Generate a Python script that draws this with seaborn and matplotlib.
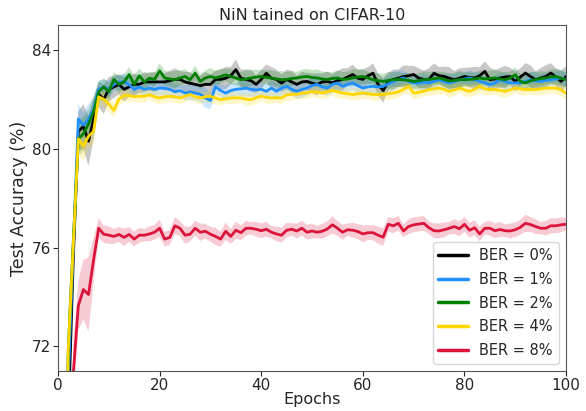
import matplotlib
matplotlib.use("Agg")
import matplotlib.pyplot as plt
import pandas as pd
import seaborn as sns

epochs = list(range(1, 101))
labels = ["BER = 0%", "BER = 1%", "BER = 2%", "BER = 4%", "BER = 8%"]
colors = ["#000000", "#1E90FF", "#008000", "#FFD700", "#DC143C"]

acc_ber0 = [50.0, 69.0, 75.5, 80.7, 80.9, 80.3, 81.2, 82.2, 82.0, 82.4,
            82.5, 82.6, 82.4, 82.5, 82.6, 82.6, 82.7, 82.7, 82.7, 82.7,
            82.7, 82.75, 82.8, 82.8, 82.7, 82.65, 82.6, 82.55, 82.6, 82.6,
            82.8, 82.8, 82.85, 82.95, 83.2, 82.85, 82.8, 82.75, 82.6, 82.8,
            83.05, 82.85, 82.8, 82.65, 82.8, 82.7, 82.6, 82.7, 82.72, 82.65,
            82.6, 82.7, 82.72, 82.66, 82.75, 82.8, 82.9, 83.0, 82.85, 82.8,
            82.95, 83.05, 82.6, 82.35, 82.72, 82.8, 82.85, 82.92, 82.95, 83.0,
            82.85, 82.8, 82.8, 83.05, 82.95, 82.92, 82.85, 82.79, 82.85, 82.92,
            82.88, 82.86, 82.95, 83.13, 82.79, 82.82, 82.86, 82.9, 82.92, 82.72,
            82.9, 83.06, 82.92, 82.79, 82.86, 82.92, 83.06, 82.9, 82.72, 82.92]
acc_ber1 = [52.0, 70.5, 76.0, 81.2, 80.95, 81.2, 81.6, 82.4, 82.5, 82.4,
            82.6, 82.7, 82.7, 82.6, 82.4, 82.5, 82.4, 82.45, 82.4, 82.45,
            82.45, 82.4, 82.3, 82.35, 82.25, 82.3, 82.25, 82.2, 82.05, 81.95,
            82.5, 82.35, 82.25, 82.35, 82.4, 82.42, 82.45, 82.4, 82.38, 82.4,
            82.32, 82.45, 82.32, 82.45, 82.52, 82.4, 82.32, 82.4, 82.45, 82.55,
            82.6, 82.5, 82.45, 82.6, 82.66, 82.52, 82.6, 82.66, 82.55, 82.45,
            82.5, 82.52, 82.5, 82.52, 82.62, 82.72, 82.8, 82.86, 82.72, 82.66,
            82.66, 82.7, 82.66, 82.72, 82.79, 82.72, 82.66, 82.72, 82.79, 82.82,
            82.86, 82.8, 82.72, 82.66, 82.59, 82.66, 82.79, 82.72, 82.66, 82.66,
            82.66, 82.72, 82.79, 82.75, 82.72, 82.76, 82.79, 82.82, 82.86, 82.8]
acc_ber2 = [55.0, 71.8, 76.2, 80.4, 80.6, 81.0, 81.5, 82.3, 82.5, 82.3,
            82.8, 82.6, 82.7, 83.0, 82.6, 82.95, 82.7, 82.85, 82.8, 83.15,
            82.86, 82.82, 82.79, 82.86, 82.92, 82.79, 83.06, 82.72, 82.86, 82.92,
            82.86, 82.92, 82.99, 82.92, 82.86, 82.79, 82.82, 82.86, 82.9, 82.92,
            82.88, 82.86, 82.82, 82.79, 82.8, 82.84, 82.86, 82.9, 82.92, 82.88,
            82.86, 82.82, 82.8, 82.84, 82.86, 82.8, 82.82, 82.86, 82.9, 82.92,
            82.86, 82.79, 82.75, 82.72, 82.76, 82.79, 82.8, 82.79, 82.76, 82.72,
            82.75, 82.79, 82.8, 82.83, 82.86, 82.8, 82.74, 82.76, 82.79, 82.79,
            82.8, 82.82, 82.86, 82.82, 82.84, 82.86, 82.82, 82.79, 82.86, 82.99,
            82.72, 82.66, 82.75, 82.79, 82.84, 82.86, 82.9, 82.92, 82.85, 82.79]
acc_ber4 = [55.0, 71.8, 76.1, 80.4, 80.1, 80.5, 80.7, 82.1, 82.0, 81.8,
            81.55, 82.0, 82.15, 82.15, 82.1, 82.12, 82.12, 82.18, 82.1, 82.05,
            82.1, 82.12, 82.1, 82.05, 82.12, 82.19, 82.1, 82.05, 82.1, 82.12,
            82.05, 81.98, 82.02, 82.05, 82.06, 82.05, 82.0, 81.98, 82.06, 82.12,
            82.08, 82.05, 82.06, 82.05, 82.18, 82.19, 82.2, 82.24, 82.26, 82.3,
            82.3, 82.25, 82.3, 82.36, 82.3, 82.25, 82.22, 82.19, 82.22, 82.25,
            82.22, 82.19, 82.19, 82.2, 82.22, 82.25, 82.3, 82.4, 82.52, 82.25,
            82.28, 82.32, 82.39, 82.42, 82.45, 82.4, 82.32, 82.38, 82.45, 82.38,
            82.32, 82.4, 82.52, 82.42, 82.39, 82.39, 82.36, 82.32, 82.38, 82.45,
            82.42, 82.39, 82.39, 82.39, 82.42, 82.45, 82.45, 82.45, 82.38, 82.25]
acc_ber8 = [40.0, 58.0, 70.9, 73.65, 74.3, 74.1, 75.5, 76.78, 76.54, 76.5,
            76.45, 76.53, 76.41, 76.53, 76.34, 76.5, 76.5, 76.55, 76.62, 76.78,
            76.34, 76.41, 76.88, 76.78, 76.5, 76.54, 76.78, 76.62, 76.66, 76.54,
            76.45, 76.34, 76.66, 76.45, 76.7, 76.6, 76.78, 76.78, 76.74, 76.68,
            76.74, 76.62, 76.55, 76.5, 76.7, 76.74, 76.67, 76.78, 76.62, 76.67,
            76.62, 76.66, 76.75, 76.92, 76.78, 76.62, 76.72, 76.7, 76.65, 76.55,
            76.6, 76.6, 76.5, 76.42, 76.94, 76.88, 76.98, 76.67, 76.85, 76.92,
            76.95, 76.98, 76.8, 76.68, 76.67, 76.72, 76.78, 76.85, 76.76, 76.94,
            76.7, 76.8, 76.55, 76.78, 76.78, 76.68, 76.73, 76.68, 76.67, 76.72,
            76.82, 76.98, 76.93, 76.85, 76.78, 76.78, 76.88, 76.88, 76.92, 76.94]

sd_ber0 = [2.0, 1.5, 1.0, 0.8, 0.9, 1.0, 0.8, 0.5, 0.6, 0.5,
           0.45, 0.4, 0.5, 0.4, 0.45, 0.35, 0.4, 0.35, 0.4, 0.3,
           0.35, 0.4, 0.45, 0.35, 0.4, 0.45, 0.35, 0.4, 0.5, 0.4,
           0.35, 0.4, 0.45, 0.35, 0.4, 0.35, 0.4, 0.45, 0.35, 0.4,
           0.35, 0.45, 0.4, 0.35, 0.4, 0.45, 0.35, 0.4, 0.35, 0.4,
           0.45, 0.35, 0.4, 0.35, 0.4, 0.45, 0.35, 0.4, 0.35, 0.4,
           0.35, 0.4, 0.45, 0.5, 0.35, 0.4, 0.35, 0.45, 0.4, 0.35,
           0.4, 0.35, 0.45, 0.4, 0.35, 0.4, 0.45, 0.35, 0.4, 0.35,
           0.4, 0.45, 0.35, 0.4, 0.5, 0.35, 0.4, 0.45, 0.35, 0.4,
           0.35, 0.4, 0.45, 0.35, 0.4, 0.45, 0.4, 0.35, 0.45, 0.4]
sd_ber1 = [2.0, 1.5, 1.0, 0.6, 0.5, 0.6, 0.5, 0.35, 0.3, 0.35,
           0.3, 0.3, 0.35, 0.3, 0.3, 0.25, 0.3, 0.3, 0.25, 0.3,
           0.3, 0.35, 0.3, 0.25, 0.3, 0.35, 0.3, 0.3, 0.4, 0.35,
           0.3, 0.25, 0.3, 0.3, 0.25, 0.3, 0.35, 0.3, 0.3, 0.25,
           0.3, 0.3, 0.35, 0.3, 0.3, 0.25, 0.3, 0.35, 0.3, 0.3,
           0.25, 0.3, 0.3, 0.35, 0.3, 0.25, 0.3, 0.3, 0.35, 0.3,
           0.3, 0.25, 0.3, 0.3, 0.35, 0.4, 0.35, 0.3, 0.3, 0.25,
           0.3, 0.35, 0.3, 0.3, 0.25, 0.3, 0.35, 0.3, 0.3, 0.25,
           0.3, 0.3, 0.35, 0.3, 0.25, 0.3, 0.3, 0.35, 0.3, 0.3,
           0.25, 0.3, 0.3, 0.35, 0.3, 0.3, 0.25, 0.3, 0.3, 0.3]
sd_ber2 = [2.0, 1.5, 1.0, 0.7, 0.7, 0.6, 0.6, 0.4, 0.35, 0.35,
           0.3, 0.35, 0.3, 0.3, 0.35, 0.3, 0.3, 0.25, 0.3, 0.3,
           0.3, 0.3, 0.35, 0.3, 0.3, 0.25, 0.3, 0.3, 0.3, 0.35,
           0.3, 0.3, 0.25, 0.3, 0.3, 0.3, 0.35, 0.3, 0.3, 0.25,
           0.3, 0.3, 0.3, 0.35, 0.3, 0.3, 0.25, 0.3, 0.3, 0.3,
           0.35, 0.3, 0.3, 0.25, 0.3, 0.3, 0.3, 0.35, 0.3, 0.3,
           0.25, 0.3, 0.3, 0.3, 0.35, 0.3, 0.3, 0.25, 0.3, 0.3,
           0.3, 0.35, 0.3, 0.3, 0.25, 0.3, 0.3, 0.3, 0.35, 0.3,
           0.3, 0.25, 0.3, 0.3, 0.3, 0.35, 0.3, 0.3, 0.25, 0.3,
           0.3, 0.3, 0.35, 0.3, 0.3, 0.25, 0.3, 0.3, 0.3, 0.3]
sd_ber4 = [2.0, 1.5, 1.0, 0.6, 0.6, 0.5, 0.5, 0.3, 0.3, 0.3,
           0.3, 0.25, 0.25, 0.25, 0.2, 0.25, 0.25, 0.2, 0.25, 0.25,
           0.25, 0.2, 0.25, 0.25, 0.25, 0.2, 0.25, 0.25, 0.2, 0.25,
           0.25, 0.25, 0.2, 0.25, 0.25, 0.2, 0.25, 0.25, 0.25, 0.2,
           0.25, 0.25, 0.2, 0.25, 0.25, 0.25, 0.2, 0.25, 0.25, 0.2,
           0.25, 0.25, 0.25, 0.2, 0.25, 0.25, 0.2, 0.25, 0.25, 0.25,
           0.2, 0.25, 0.25, 0.2, 0.25, 0.25, 0.25, 0.2, 0.3, 0.25,
           0.25, 0.2, 0.25, 0.25, 0.25, 0.2, 0.25, 0.25, 0.2, 0.25,
           0.25, 0.25, 0.3, 0.25, 0.25, 0.2, 0.25, 0.25, 0.25, 0.2,
           0.25, 0.25, 0.2, 0.25, 0.25, 0.25, 0.2, 0.25, 0.25, 0.25]
sd_ber8 = [2.0, 1.5, 1.2, 1.0, 1.2, 1.5, 0.9, 0.4, 0.35, 0.35,
           0.3, 0.3, 0.35, 0.3, 0.3, 0.3, 0.25, 0.3, 0.3, 0.35,
           0.3, 0.3, 0.35, 0.3, 0.35, 0.3, 0.3, 0.35, 0.3, 0.3,
           0.35, 0.3, 0.35, 0.3, 0.35, 0.3, 0.3, 0.25, 0.3, 0.3,
           0.3, 0.25, 0.3, 0.3, 0.3, 0.25, 0.3, 0.3, 0.3, 0.3,
           0.25, 0.3, 0.3, 0.35, 0.3, 0.3, 0.25, 0.3, 0.3, 0.35,
           0.3, 0.3, 0.35, 0.35, 0.3, 0.3, 0.3, 0.25, 0.3, 0.3,
           0.3, 0.3, 0.25, 0.3, 0.3, 0.3, 0.25, 0.3, 0.3, 0.3,
           0.3, 0.3, 0.3, 0.25, 0.3, 0.3, 0.3, 0.25, 0.3, 0.3,
           0.3, 0.35, 0.3, 0.3, 0.25, 0.3, 0.3, 0.3, 0.3, 0.25]

series_acc = [acc_ber0, acc_ber1, acc_ber2, acc_ber4, acc_ber8]
series_sd = [sd_ber0, sd_ber1, sd_ber2, sd_ber4, sd_ber8]

rows = []
for lab, acc, sd in zip(labels, series_acc, series_sd):
    for e, a, s in zip(epochs, acc, sd):
        rows.append({"Epochs": e, "acc": a, "sd": s, "BER": lab})
df = pd.DataFrame(rows)

sns.set_style("ticks")
plt.rcParams["font.family"] = ["DejaVu Sans"]

fig = plt.figure(figsize=(5.86, 4.11), dpi=100)
ax = fig.add_axes([0.099, 0.097, 0.867, 0.842])

palette = dict(zip(labels, colors))
for lab in labels:
    sub = df[df["BER"] == lab]
    ax.fill_between(sub["Epochs"], sub["acc"] - sub["sd"], sub["acc"] + sub["sd"],
                    color=palette[lab], alpha=0.22, linewidth=0)
sns.lineplot(data=df, x="Epochs", y="acc", hue="BER", hue_order=labels,
             palette=palette, errorbar=None, linewidth=2.0, ax=ax)

ax.set_xlim(0, 100)
ax.set_ylim(71, 85)
ax.set_xticks([0, 20, 40, 60, 80, 100])
ax.set_yticks([72, 76, 80, 84])
ax.tick_params(labelsize=11, pad=1.5)
ax.set_xlabel("Epochs", fontsize=11.5, labelpad=-1)
ax.set_ylabel("Test Accuracy (%)", fontsize=12.5, labelpad=3)
ax.set_title("NiN tained on CIFAR-10", fontsize=11.5, pad=4)
for sp in ax.spines.values():
    sp.set_color("#555555")

leg = ax.legend(loc="lower right", fontsize=10.5, frameon=True, handlelength=2.0,
                labelspacing=0.6)
for h in leg.get_lines():
    h.set_linewidth(2.5)

fig.savefig("out.png", dpi=100)
